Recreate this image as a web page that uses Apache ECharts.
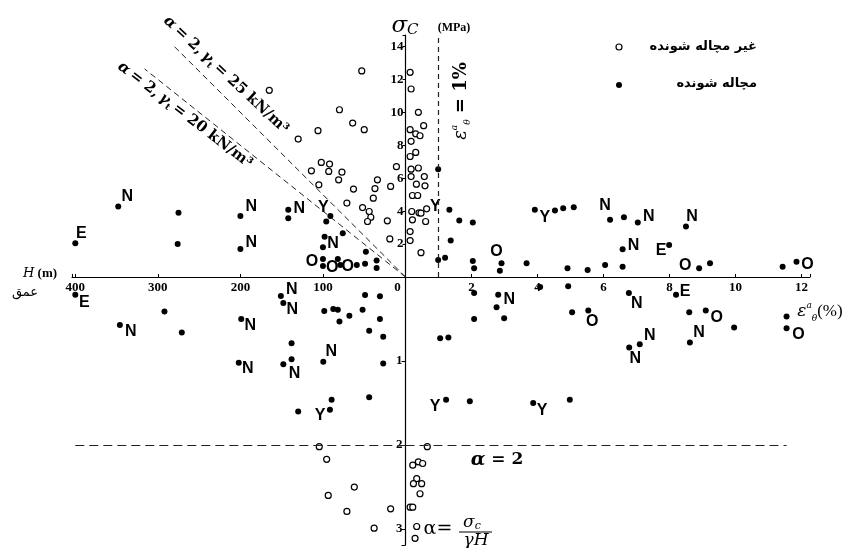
<!DOCTYPE html>
<html>
<head>
<meta charset="utf-8">
<script src="https://cdn.jsdelivr.net/npm/echarts@6/dist/echarts.min.js"></script>
<style>
  html, body { margin: 0; padding: 0; background: #fff; }
  #chart { width: 843px; height: 548px; }
</style>
</head>
<body>
<div id="chart"></div>
<script>
// ---- data ----
// top-left: depth H (m) vs strength σc (MPa)
const tlOpen = [[165,11.34],[130,8.38],[106,8.89],[80,10.16],[64,9.35],[50,8.95],[53,12.52],
  [114,6.45],[102,6.96],[92,6.86],[93,6.41],[77,6.37],[81,5.9],[105,5.6],[63,5.34],[34,5.9],
  [37,5.37],[39,4.79],[18,5.5],[71,4.49],[52,4.22],[44,3.98],[42,3.63],[46,3.37],[22,3.41],
  [19,2.31],[11,6.7]];
const tlFilled = [[275,3.9],[276,2.0],[142,3.57],[96,3.37],[98,2.45],[76,2.66],[48,1.54],
  [100,0.67],[82,1.1],[49,0.8],[35,1.0],[35,0.55]];
const tlTagged = [[400,2.05,'E'],[348,4.28,'N'],[200,3.7,'N'],[200,1.7,'N'],[142,4.08,'N'],
  [91,3.71,'Y'],[100,1.81,'N'],[100,1.1,'O'],[79,0.73,'O'],[59,0.73,'O']];

// top-right: strain ε (%) vs σc (MPa)
const trOpen = [[0.14,12.43],[0.17,11.42],[0.39,10.0],[0.55,9.19],[0.14,8.95],[0.31,8.7],
  [0.44,8.58],[0.17,8.24],[0.14,7.32],[0.31,7.57],[0.17,6.55],[0.39,6.62],[0.17,6.1],
  [0.33,5.64],[0.57,6.1],[0.59,5.54],[0.21,4.95],[0.37,4.95],[0.19,3.98],[0.41,3.9],
  [0.47,3.88],[0.64,4.14],[0.21,3.47],[0.61,3.37],[0.14,2.76],[0.14,2.21],[0.47,1.48]];
const trFilled = [[0.99,6.55],[1.63,3.43],[2.04,3.31],[1.37,2.21],[0.99,1.03],[1.2,1.17],
  [2.04,0.97],[2.08,0.53],[2.86,0.38],[3.67,0.83],[4.53,4.04],[4.78,4.18],[5.1,4.24],
  [4.91,0.53],[5.52,0.43],[6.05,0.73],[6.58,0.63],[6.62,3.63],[9.23,0.83],[11.43,0.63]];
const trTagged = [[1.33,4.08,'Y'],[2.91,0.83,'O'],[3.92,4.08,'Y'],[6.2,3.47,'N'],[7.04,3.31,'N'],
  [6.58,1.69,'N'],[7.99,1.95,'E'],[8.5,3.06,'N'],[8.9,0.53,'O'],[11.85,0.93,'O']];

// bottom-left: H (m) vs α
const blOpen = [[104.5,2.02],[95.5,2.17],[62,2.5],[93.6,2.6],[71,2.79],[18,2.76],[38,2.99]];
const blFilled = [[292,0.41],[271,0.66],[138,0.79],[148,1.04],[130,1.6],[89.5,1.46],[44,1.43],
  [27,1.03],[98.4,0.405],[87.5,0.38],[82,0.39],[80,0.53],[68,0.46],[52,0.39],[49,0.214],
  [31,0.23],[31,0.5],[44,0.64],[27,0.71]];
const blTagged = [[400,0.21,'E'],[346,0.57,'N'],[199,0.5,'N'],[202,1.02,'N'],[151,0.226,'N'],
  [148,0.31,'N'],[138,0.98,'N'],[99.6,1.01,'N'],[91.5,1.58,'Y']];

// bottom-right: ε (%) vs α
const brOpen = [[0.66,2.02],[0.22,2.24],[0.39,2.2],[0.52,2.22],[0.34,2.4],[0.24,2.46],
  [0.49,2.46],[0.44,2.58],[0.14,2.74],[0.22,2.74],[0.34,2.97],[0.29,3.11]];
const brFilled = [[2.08,0.19],[2.08,0.5],[2.76,0.36],[2.99,0.49],[4.08,0.12],[4.93,0.11],
  [5.05,0.42],[8.6,0.42],[9.96,0.6],[11.55,0.47],[1.05,0.73],[1.3,0.72],[1.95,1.48],[4.98,1.46]];
const brTagged = [[2.81,0.21,'N'],[5.54,0.4,'O'],[6.77,0.19,'N'],[7.1,0.8,'N'],[6.78,0.84,'N'],
  [8.2,0.21,'E'],[8.62,0.78,'N'],[9.1,0.4,'O'],[11.55,0.61,'O'],[1.23,1.46,'Y'],[3.87,1.5,'Y']];

// reference lines
const guide25 = [[0,0],[282,14.1]];   // α = 2, γt = 25 kN/m3
const guide20 = [[0,0],[316,12.64]];  // α = 2, γt = 20 kN/m3
const strainLimit = 1;                // εθ = 1%
const alphaLimit = 2;
const alphaLineH = 400;
const alphaLineEps = 11.55;

// tick labels
const hTicks = [0, 100, 200, 300, 400];
const epsTicks = [2, 4, 6, 8, 10, 12];
const sigmaTicks = [2, 4, 6, 8, 10, 12, 14];
const alphaTicks = [1, 2, 3];

const legendNames = ['غیر مچاله شونده', 'مچاله شونده'];

// ---- label nudges for the case letters (pixels) ----
const tlNudge = [[6,-10],[9,-10],[11,-9],[11,-6],[11,-1],[-7,-8],[10,-4],[-11,3],[-8,3],[-9,2]];
const trNudge = [[-14,-3],[-5,-12],[10,8],[-5,-14],[11,-6],[11,-4],[-8,6],[6,-10],[-14,-3],[11,3]];
const blNudge = [[9,8],[11,7],[9,7],[9,6],[11,-6],[9,7],[3,14],[8,-10],[-10,6]];
const brNudge = [[11,5],[4,11],[8,11],[10,-9],[6,11],[9,-3],[9,-10],[11,7],[12,6],[-11,7],[9,8]];

const INK = '#000';
const serif = '"DejaVu Serif", "Liberation Serif", serif';
const tickFont = '"Liberation Serif", serif';

function openSeries(ax, data) {
  return {
    type: 'scatter', name: legendNames[0], xAxisIndex: ax, yAxisIndex: ax, data: data,
    symbol: 'circle', symbolSize: 6, z: 3,
    itemStyle: { color: '#fff', borderColor: INK, borderWidth: 1.2, opacity: 1 }
  };
}
function filledSeries(ax, data) {
  return {
    type: 'scatter', name: legendNames[1], xAxisIndex: ax, yAxisIndex: ax, data: data,
    symbol: 'circle', symbolSize: 6, z: 3, itemStyle: { color: INK, opacity: 1 }
  };
}
function taggedSeries(ax, data, nudge) {
  return {
    type: 'scatter', name: legendNames[1], xAxisIndex: ax, yAxisIndex: ax,
    symbol: 'circle', symbolSize: 6, z: 4, itemStyle: { color: INK, opacity: 1 },
    label: {
      show: true, position: 'inside', color: INK, opacity: 1,
      fontFamily: '"Liberation Sans", Arial, sans-serif', fontWeight: 'bold', fontSize: 16
    },
    data: data.map((d, i) => ({
      value: [d[0], d[1]],
      label: { formatter: d[2], offset: nudge[i] }
    }))
  };
}

const axisLine = { show: true, onZero: false, lineStyle: { color: INK, width: 1.2 } };
const labelFont = { fontFamily: tickFont, fontWeight: 'bold', fontSize: 13, color: INK };

function pick(list) {
  return function (v) { return list.indexOf(Math.round(v * 1000) / 1000) >= 0 ? String(v) : ''; };
}

const chart = echarts.init(document.getElementById('chart'), null, { renderer: 'canvas' });

const option = {
  backgroundColor: '#fff',
  animation: false,
  grid: [
    { left: 72, top: 35, width: 333.5, height: 242 },
    { left: 405.5, top: 35, width: 404.5, height: 242 },
    { left: 72, top: 277, width: 333.5, height: 268 },
    { left: 405.5, top: 277, width: 404.5, height: 268 }
  ],
  xAxis: [
    {
      gridIndex: 0, type: 'value', inverse: true, min: 0, max: 404, interval: 100, position: 'bottom',
      axisLine: axisLine, splitLine: { show: false },
      axisTick: { inside: true, length: 3, lineStyle: { color: INK } },
      axisLabel: Object.assign({ margin: 4, formatter: function (v) {
        if (v === 0) return '{z|0}';
        return hTicks.indexOf(v) >= 0 ? String(v) : '';
      }, rich: { z: { fontFamily: tickFont, fontWeight: 'bold', fontSize: 13, padding: [0, 16, 0, 0] } } }, labelFont)
    },
    {
      gridIndex: 1, type: 'value', min: 0, max: 12.26, interval: 2, position: 'bottom',
      axisLine: axisLine, splitLine: { show: false },
      axisTick: { inside: true, length: 3, lineStyle: { color: INK } },
      axisLabel: Object.assign({ margin: 4, formatter: pick(epsTicks) }, labelFont)
    },
    { gridIndex: 2, type: 'value', inverse: true, min: 0, max: 404, show: false },
    { gridIndex: 3, type: 'value', min: 0, max: 12.26, show: false }
  ],
  yAxis: [
    { gridIndex: 0, type: 'value', min: 0, max: 14.7, show: false },
    {
      gridIndex: 1, type: 'value', min: 0, max: 14.7, interval: 2, position: 'left',
      axisLine: axisLine, splitLine: { show: false },
      axisTick: { length: 3, lineStyle: { color: INK } },
      axisLabel: Object.assign({ margin: 2, formatter: pick(sigmaTicks) }, labelFont)
    },
    { gridIndex: 2, type: 'value', inverse: true, min: 0, max: 3.19, show: false },
    {
      gridIndex: 3, type: 'value', inverse: true, min: 0, max: 3.19, interval: 1, position: 'left',
      axisLine: axisLine, splitLine: { show: false },
      axisTick: { length: 4, lineStyle: { color: INK } },
      axisLabel: Object.assign({ margin: 3, formatter: pick(alphaTicks) }, labelFont)
    }
  ],
  series: [
    // guide lines α = 2 in the σc–H quadrant
    {
      type: 'line', xAxisIndex: 0, yAxisIndex: 0, data: guide25, symbol: 'none', silent: true,
      lineStyle: { color: '#222', width: 1, type: [6, 4] }
    },
    {
      type: 'line', xAxisIndex: 0, yAxisIndex: 0, data: guide20, symbol: 'none', silent: true,
      lineStyle: { color: '#222', width: 1, type: [6, 4] }
    },
    openSeries(0, tlOpen), filledSeries(0, tlFilled), taggedSeries(0, tlTagged, tlNudge),
    Object.assign(openSeries(1, trOpen), {
      markLine: {
        silent: true, symbol: ['none', 'none'], label: { show: false },
        lineStyle: { color: '#222', width: 1.2, type: [5, 4] },
        data: [{ xAxis: strainLimit }]
      }
    }),
    filledSeries(1, trFilled), taggedSeries(1, trTagged, trNudge),
    Object.assign(openSeries(2, blOpen), {
      markLine: {
        silent: true, symbol: ['none', 'none'], label: { show: false },
        lineStyle: { color: '#222', width: 1.2, type: [9, 5] },
        data: [[{ coord: [alphaLineH, alphaLimit] }, { coord: [0, alphaLimit] }]]
      }
    }),
    filledSeries(2, blFilled), taggedSeries(2, blTagged, blNudge),
    Object.assign(openSeries(3, brOpen), {
      markLine: {
        silent: true, symbol: ['none', 'none'], label: { show: false },
        lineStyle: { color: '#222', width: 1.2, type: [9, 5] },
        data: [[{ coord: [0, alphaLimit] }, { coord: [alphaLineEps, alphaLimit] }]]
      }
    }),
    filledSeries(3, brFilled), taggedSeries(3, brTagged, brNudge)
  ],
  graphic: [
    // legend
    { type: 'circle', shape: { cx: 619, cy: 47, r: 3 }, style: { fill: '#fff', stroke: INK, lineWidth: 1.2 } },
    { type: 'text', x: 757, y: 47, style: { text: legendNames[0], fill: INK, align: 'right', verticalAlign: 'middle',
      font: 'bold 13px "DejaVu Sans", sans-serif' } },
    { type: 'circle', shape: { cx: 619, cy: 85, r: 3 }, style: { fill: INK } },
    { type: 'text', x: 757, y: 84, style: { text: legendNames[1], fill: INK, align: 'right', verticalAlign: 'middle',
      font: 'bold 13px "DejaVu Sans", sans-serif' } },
    // σc (MPa)
    { type: 'text', x: 405, y: 26, style: { text: '{s|σ}{c|C}', align: 'center', verticalAlign: 'middle',
      rich: { s: { fill: INK, fontFamily: serif, fontStyle: 'italic', fontSize: 23 },
              c: { fill: INK, fontFamily: serif, fontStyle: 'italic', fontSize: 15, verticalAlign: 'bottom' } } } },
    { type: 'text', x: 454, y: 28, style: { text: '(MPa)', fill: INK, align: 'center', verticalAlign: 'middle',
      font: 'bold 12px "Liberation Serif", serif' } },
    // H (m) / عمق
    { type: 'text', x: 40, y: 274, style: { text: '{i|H} {b|(m)}', align: 'center', verticalAlign: 'middle',
      rich: { i: { fill: INK, fontFamily: serif, fontStyle: 'italic', fontSize: 13 },
              b: { fill: INK, fontFamily: tickFont, fontWeight: 'bold', fontSize: 13 } } } },
    { type: 'text', x: 25, y: 293, style: { text: 'عمق', fill: INK, align: 'center', verticalAlign: 'middle',
      font: '13px "DejaVu Sans", sans-serif' } },
    // εθa (%)
    { type: 'text', x: 820, y: 312, style: { text: '{e|ε}{p|a}{b|θ}{t|(%)}', align: 'center', verticalAlign: 'middle',
      rich: { e: { fill: INK, fontFamily: serif, fontStyle: 'italic', fontSize: 17, lineHeight: 22 },
              p: { fill: INK, fontFamily: serif, fontStyle: 'italic', fontSize: 9, verticalAlign: 'top', lineHeight: 22 },
              b: { fill: INK, fontFamily: serif, fontStyle: 'italic', fontSize: 9, verticalAlign: 'bottom', lineHeight: 22 },
              t: { fill: INK, fontFamily: tickFont, fontSize: 17, lineHeight: 22 } } } },
    // εθa = 1% (vertical)
    { type: 'text', x: 461, y: 101, rotation: Math.PI / 2, style: { text: '{e|ε}{p|a}{b|θ}{t| = 1%}',
      align: 'center', verticalAlign: 'middle',
      rich: { e: { fill: INK, fontFamily: serif, fontStyle: 'italic', fontSize: 18, lineHeight: 22 },
              p: { fill: INK, fontFamily: serif, fontStyle: 'italic', fontSize: 9, verticalAlign: 'top', lineHeight: 22 },
              b: { fill: INK, fontFamily: serif, fontStyle: 'italic', fontSize: 9, verticalAlign: 'bottom', lineHeight: 22 },
              t: { fill: INK, fontFamily: serif, fontWeight: 'bold', fontSize: 18, lineHeight: 22 } } } },
    // guide line captions
    { type: 'text', x: 226, y: 75, rotation: -43 * Math.PI / 180, style: {
      text: '{i|α} {b|= 2,} {i|γ}{s|t} {b|= 25 kN/m³}', align: 'center', verticalAlign: 'middle',
      rich: { i: { fill: INK, fontFamily: serif, fontStyle: 'italic', fontWeight: 'bold', fontSize: 15, lineHeight: 18 },
              b: { fill: INK, fontFamily: serif, fontWeight: 'bold', fontSize: 15, lineHeight: 18 },
              s: { fill: INK, fontFamily: serif, fontWeight: 'bold', fontSize: 9, verticalAlign: 'bottom', lineHeight: 18 } } } },
    { type: 'text', x: 185, y: 115, rotation: -37.4 * Math.PI / 180, style: {
      text: '{i|α} {b|= 2,} {i|γ}{s|t} {b|= 20 kN/m³}', align: 'center', verticalAlign: 'middle',
      rich: { i: { fill: INK, fontFamily: serif, fontStyle: 'italic', fontWeight: 'bold', fontSize: 15, lineHeight: 18 },
              b: { fill: INK, fontFamily: serif, fontWeight: 'bold', fontSize: 15, lineHeight: 18 },
              s: { fill: INK, fontFamily: serif, fontWeight: 'bold', fontSize: 9, verticalAlign: 'bottom', lineHeight: 18 } } } },
    // α = 2
    { type: 'text', x: 497, y: 460, style: { text: '{a|α}{b| = 2}', align: 'center', verticalAlign: 'middle',
      rich: { a: { fill: INK, fontFamily: serif, fontStyle: 'italic', fontWeight: 'bold', fontSize: 19 },
              b: { fill: INK, fontFamily: serif, fontWeight: 'bold', fontSize: 17 } } } },
    // α = σc / γH
    { type: 'text', x: 438, y: 529, style: { text: 'α=', fill: INK, align: 'center', verticalAlign: 'middle',
      font: '19px "DejaVu Serif", serif' } },
    { type: 'text', x: 472, y: 523, style: { text: '{s|σ}{c|c}', align: 'center', verticalAlign: 'middle',
      rich: { s: { fill: INK, fontFamily: serif, fontStyle: 'italic', fontSize: 17 },
              c: { fill: INK, fontFamily: serif, fontStyle: 'italic', fontSize: 11, verticalAlign: 'bottom' } } } },
    { type: 'line', shape: { x1: 459, y1: 532, x2: 492, y2: 532 }, style: { stroke: INK, lineWidth: 1.2 } },
    { type: 'text', x: 476, y: 541, style: { text: 'γH', fill: INK, align: 'center', verticalAlign: 'middle',
      font: 'italic 17px "DejaVu Serif", serif' } }
  ]
};

chart.setOption(option);
window.addEventListener('resize', function () { chart.resize(); });
</script>
</body>
</html>
